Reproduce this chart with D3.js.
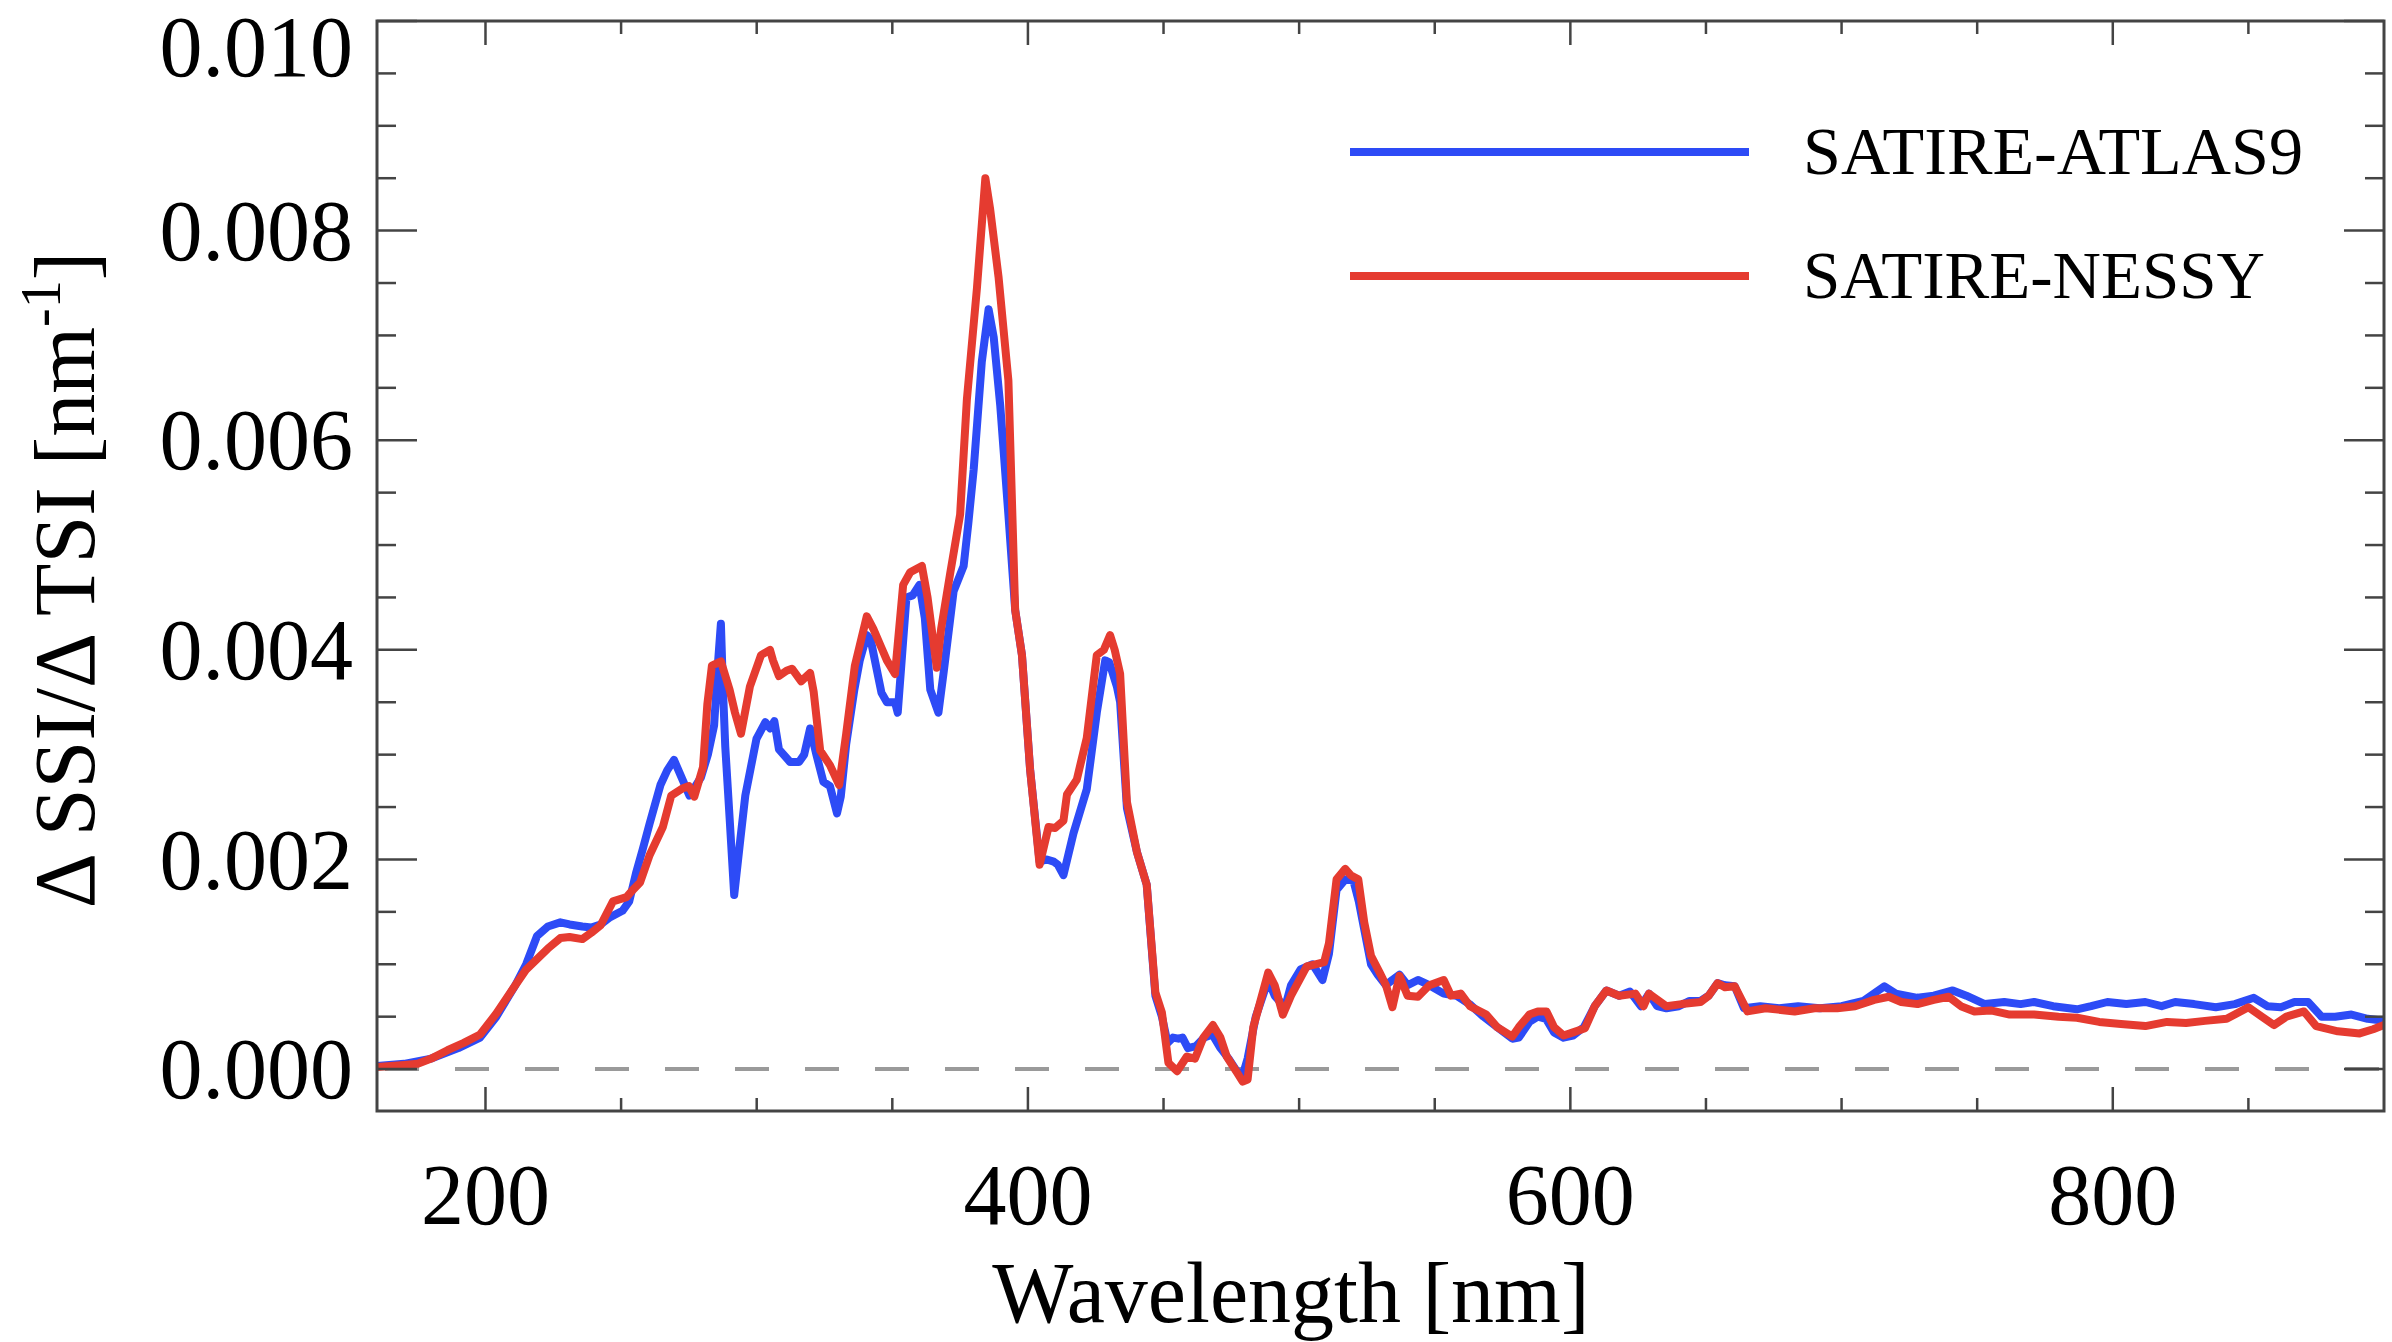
<!DOCTYPE html>
<html>
<head>
<meta charset="utf-8">
<script src="https://cdn.jsdelivr.net/npm/d3@7"></script>
<style>
  html, body { margin: 0; padding: 0; background: #fff; }
  svg { display: block; font-family: "Liberation Serif", "DejaVu Serif", serif; }
</style>
</head>
<body>
<svg id="chart" width="2392" height="1342"></svg>
<script>
// wavelength [nm], dSSI/dTSI [nm^-1]
const atlas9 = [
  [160, 0.00003], [170, 0.00005], [180, 0.0001], [190, 0.0002], [198, 0.0003],
  [204, 0.0005], [211, 0.0008], [215, 0.001], [219, 0.00127], [223, 0.00136],
  [227.6, 0.0014], [231, 0.00138], [235.7, 0.00136], [239, 0.00135], [242.4, 0.00138],
  [246, 0.00145], [250.5, 0.00151], [253, 0.0016], [255.5, 0.00187], [258, 0.0021],
  [260.5, 0.00234], [264.5, 0.00271], [267, 0.00285], [269.5, 0.00295], [272, 0.0028],
  [275.2, 0.00261], [279.4, 0.00278], [282, 0.003], [284.3, 0.00328], [285.8, 0.0039],
  [286.8, 0.00425], [287.6, 0.0036], [288.4, 0.00308], [290, 0.0024], [291.7, 0.00166],
  [294, 0.0022], [295.8, 0.00261], [299.9, 0.00315], [303.2, 0.00331], [305, 0.00325],
  [306.5, 0.00332], [308.2, 0.00305], [312.3, 0.00293], [315.6, 0.00293], [317.5, 0.003],
  [319.7, 0.00325], [322, 0.003], [324.6, 0.00274], [327, 0.0027], [329.6, 0.00244],
  [331, 0.0026], [333, 0.0031], [336, 0.00362], [338, 0.0039], [340.6, 0.00414],
  [342, 0.0041], [346, 0.00359], [348, 0.0035], [351, 0.0035], [352, 0.0034],
  [355.2, 0.0045], [357.5, 0.00452], [360, 0.00462], [362, 0.0043], [364, 0.00362],
  [367, 0.0034], [369, 0.0038], [372.6, 0.00456], [376.3, 0.0048], [378, 0.0052],
  [380, 0.00572], [383, 0.00675], [385.5, 0.00725], [387.4, 0.00698], [389.8, 0.00633],
  [392.8, 0.00529], [395.3, 0.00438], [397.8, 0.00395], [400.8, 0.00286], [404.3, 0.00198],
  [407, 0.002], [409.5, 0.00198], [411, 0.00195], [413.1, 0.00185], [416.8, 0.00225],
  [421.7, 0.00267], [425.4, 0.0034], [428.5, 0.0039], [430, 0.00388], [432.8, 0.00365],
  [434, 0.0035], [436.5, 0.00249], [440.2, 0.00207], [443.8, 0.00176], [447, 0.0007],
  [449.4, 0.0005], [451.5, 0.00025], [453.5, 0.0003], [455.5, 0.00029], [457, 0.0003],
  [459, 0.0002], [462, 0.00022], [465, 0.0003], [468, 0.00033], [471, 0.0002],
  [474, 0.0001], [477, -0.00002], [479.2, -0.00006], [481, 0.0001], [484, 0.0005],
  [488.6, 0.00085], [491, 0.0007], [494.8, 0.00059], [497, 0.0008], [500.5, 0.00095],
  [505, 0.001], [508.6, 0.00085], [511, 0.0011], [513.8, 0.00171], [517, 0.00181],
  [520, 0.0018], [522, 0.0016], [526.5, 0.001], [529, 0.0009], [532, 0.0008],
  [534.4, 0.00085], [537, 0.0009], [540, 0.0008], [543.8, 0.00085], [548, 0.0008],
  [553.3, 0.00072], [558, 0.0007], [562.8, 0.00062], [568, 0.0005], [573, 0.0004],
  [578.6, 0.00029], [581, 0.0003], [584.9, 0.00045], [588, 0.0005], [591, 0.00048],
  [594, 0.00035], [597.5, 0.0003], [601, 0.00032], [605, 0.0004], [609, 0.0006],
  [613.3, 0.00075], [618, 0.0007], [622, 0.00074], [626, 0.0006], [629, 0.00072],
  [632, 0.0006], [635.4, 0.00058], [640, 0.0006], [644, 0.00065], [648, 0.00065],
  [651, 0.0007], [654.3, 0.00082], [657, 0.0008], [660.6, 0.00079], [664, 0.00058],
  [670, 0.0006], [677, 0.00058], [684, 0.0006], [692, 0.00058], [700, 0.0006],
  [708, 0.00065], [715.8, 0.00079], [720, 0.00072], [728, 0.00068], [734, 0.0007],
  [741, 0.00075], [746, 0.0007], [752.8, 0.00062], [760, 0.00064], [766, 0.00062],
  [771, 0.00064], [778, 0.0006], [786.8, 0.00057], [792, 0.0006], [798, 0.00064],
  [805, 0.00062], [812, 0.00064], [818, 0.0006], [823, 0.00064], [830, 0.00062],
  [838, 0.00059], [845, 0.00062], [852, 0.00068], [857, 0.0006], [862, 0.00059],
  [867, 0.00064], [872, 0.00064], [877, 0.0005], [882, 0.0005], [888, 0.00052],
  [894, 0.00048], [900, 0.00046]
];

const nessy = [
  [160, 0.00002], [170, 0.00004], [175, 0.00005], [180, 0.0001], [186, 0.00018],
  [192, 0.00025], [198, 0.00033], [204, 0.00053], [211, 0.0008], [215, 0.00095],
  [219, 0.00105], [223, 0.00115], [227.6, 0.00125], [231, 0.00126], [235.7, 0.00124],
  [239, 0.0013], [242.4, 0.00137], [247, 0.0016], [252, 0.00164], [254, 0.0017],
  [257, 0.00178], [260.5, 0.00204], [265.4, 0.00231], [268.5, 0.00261], [272.8, 0.00268],
  [275, 0.0027], [277, 0.0026], [280.2, 0.00288], [281.8, 0.00348], [283.5, 0.00385],
  [286.8, 0.00389], [290, 0.00362], [292, 0.0034], [294.2, 0.0032], [297.5, 0.00365],
  [301.6, 0.00395], [304.9, 0.004], [306, 0.0039], [308.2, 0.00375], [311, 0.0038],
  [313, 0.00382], [316.4, 0.0037], [319.7, 0.00378], [321, 0.0036], [323.4, 0.00304],
  [327, 0.0029], [330.4, 0.00271], [333, 0.0032], [336.2, 0.00385], [340.6, 0.00432],
  [343, 0.0042], [346, 0.00402], [348, 0.0039], [351, 0.00377], [354, 0.00462],
  [356.6, 0.00474], [360.9, 0.0048], [363, 0.0045], [366.4, 0.00383], [368, 0.0042],
  [371.4, 0.00474], [375, 0.00529], [377.5, 0.00639], [381.2, 0.00745], [384.3, 0.0085],
  [386.1, 0.0082], [389.2, 0.00755], [392.8, 0.00657], [395.3, 0.00438], [397.8, 0.00395],
  [400.8, 0.00286], [404.3, 0.00195], [407.6, 0.00231], [410, 0.0023], [413.1, 0.00237],
  [414.4, 0.00262], [418, 0.00276], [421.7, 0.00316], [425.4, 0.00395], [428, 0.004],
  [430.3, 0.00414], [432, 0.004], [434, 0.00377], [436.5, 0.00255], [440.2, 0.00207],
  [443.8, 0.00176], [447, 0.00073], [449.4, 0.00054], [451.8, 0.00006], [455, -0.00002],
  [458.6, 0.00012], [461.6, 0.0001], [464.7, 0.0003], [468.2, 0.00042], [471, 0.0003],
  [473.3, 0.00012], [477, -0.00003], [479.2, -0.00012], [481, -0.0001], [483.1, 0.0004],
  [488.6, 0.00092], [491, 0.0008], [494, 0.00052], [497, 0.0007], [502.8, 0.00098],
  [506, 0.001], [509.2, 0.00102], [511, 0.0012], [513.8, 0.00181], [517, 0.00191],
  [519, 0.00185], [521.8, 0.00181], [524, 0.0014], [526.5, 0.00108], [529.7, 0.00092],
  [532, 0.0008], [534.4, 0.00059], [537, 0.00089], [540, 0.0007], [543.8, 0.00069],
  [548, 0.0008], [553.3, 0.00085], [556, 0.0007], [559.6, 0.00072], [563, 0.0006],
  [569, 0.00052], [573, 0.0004], [578.6, 0.00031], [581, 0.0004], [584.9, 0.00052],
  [588, 0.00055], [591.2, 0.00055], [594, 0.0004], [597.5, 0.00032], [601, 0.00035],
  [605.4, 0.00039], [609, 0.0006], [613.3, 0.00075], [618, 0.0007], [624, 0.00072],
  [627, 0.0006], [629, 0.00072], [635.4, 0.0006], [641, 0.00062], [648, 0.00064],
  [651, 0.0007], [654.3, 0.00082], [657, 0.00078], [660.6, 0.00079], [665.3, 0.00055],
  [672, 0.00058], [682.7, 0.00055], [690, 0.00058], [698.4, 0.00058], [705, 0.0006],
  [712, 0.00066], [717.4, 0.00069], [722, 0.00064], [728, 0.00062], [734, 0.00066],
  [739.5, 0.00069], [744, 0.0006], [749, 0.00055], [755, 0.00056], [762, 0.00052],
  [771, 0.00052], [780, 0.0005], [786.8, 0.00049], [795, 0.00045], [803, 0.00043],
  [812, 0.00041], [820, 0.00045], [827, 0.00044], [834, 0.00046], [842, 0.00048],
  [850, 0.00059], [855, 0.0005], [859.4, 0.00042], [864, 0.0005], [870.5, 0.00055],
  [875, 0.00041], [883, 0.00036], [891, 0.00034], [896, 0.00038], [900, 0.00042]
];

const seriesNames = ["SATIRE-ATLAS9", "SATIRE-NESSY"];
const seriesColors = ["#2d4bf6", "#e53b30"];
const xMajorTicks = [200, 400, 600, 800];
const yMajorTicks = [0, 0.002, 0.004, 0.006, 0.008, 0.010];

const width = 2392;
const height = 1342;
const margin = { top: 21, right: 8, bottom: 231, left: 377 };
const innerW = width - margin.left - margin.right;
const innerH = height - margin.top - margin.bottom;

const svg = d3.select("#chart");
svg.append("rect").attr("width", width).attr("height", height).attr("fill", "#fff");

const x = d3.scaleLinear().domain([160, 900]).range([margin.left, width - margin.right]);
const y = d3.scaleLinear().domain([-0.0004, 0.010]).range([height - margin.bottom, margin.top]);

svg.append("clipPath").attr("id", "plot-clip")
  .append("rect")
  .attr("x", margin.left).attr("y", margin.top)
  .attr("width", innerW).attr("height", innerH);

// zero reference line
svg.append("line")
  .attr("x1", x(160)).attr("x2", x(900))
  .attr("y1", y(0)).attr("y2", y(0))
  .attr("stroke", "#9a9a9a")
  .attr("stroke-width", 4)
  .attr("stroke-dasharray", "34,36")
  .attr("stroke-dashoffset", -8);

const line = d3.line()
  .x((d) => x(d[0]))
  .y((d) => y(d[1]));

const plot = svg.append("g").attr("clip-path", "url(#plot-clip)");

[atlas9, nessy].forEach((data, i) => {
  plot.append("path")
    .datum(data)
    .attr("fill", "none")
    .attr("stroke", seriesColors[i])
    .attr("stroke-width", 8)
    .attr("stroke-linejoin", "round")
    .attr("stroke-linecap", "round")
    .attr("d", line);
});

// axes: ticks on all four sides, pointing inwards
const xMinor = d3.range(200, 900, 50).filter((v) => !xMajorTicks.includes(v));
const yMinor = d3.range(0, 0.0100001, 0.0005).filter((v) => !yMajorTicks.some((m) => Math.abs(m - v) < 1e-9));

const axisColor = "#444";

function xTicksAt(yPos, dir) {
  const g = svg.append("g").attr("stroke", axisColor).attr("stroke-width", 2.5);
  xMajorTicks.forEach((v) => {
    g.append("line").attr("x1", x(v)).attr("x2", x(v)).attr("y1", yPos).attr("y2", yPos + dir * 24);
  });
  xMinor.forEach((v) => {
    g.append("line").attr("x1", x(v)).attr("x2", x(v)).attr("y1", yPos).attr("y2", yPos + dir * 13);
  });
}
function yTicksAt(xPos, dir) {
  const g = svg.append("g").attr("stroke", axisColor).attr("stroke-width", 2.5);
  yMajorTicks.forEach((v) => {
    g.append("line").attr("y1", y(v)).attr("y2", y(v)).attr("x1", xPos).attr("x2", xPos + dir * 40);
  });
  yMinor.forEach((v) => {
    g.append("line").attr("y1", y(v)).attr("y2", y(v)).attr("x1", xPos).attr("x2", xPos + dir * 19);
  });
}
xTicksAt(height - margin.bottom, -1);
xTicksAt(margin.top, 1);
yTicksAt(margin.left, 1);
yTicksAt(width - margin.right, -1);

svg.append("rect")
  .attr("x", margin.left).attr("y", margin.top)
  .attr("width", innerW).attr("height", innerH)
  .attr("fill", "none")
  .attr("stroke", axisColor)
  .attr("stroke-width", 3);

// tick labels
svg.append("g")
  .selectAll("text")
  .data(xMajorTicks)
  .join("text")
  .attr("x", (d) => x(d))
  .attr("y", 1224)
  .attr("text-anchor", "middle")
  .attr("font-size", 86)
  .attr("fill", "#000")
  .text((d) => d);

// the top label sits just below the frame edge, as in the original
svg.append("g")
  .selectAll("text")
  .data(yMajorTicks)
  .join("text")
  .attr("x", margin.left - 24)
  .attr("y", (d) => Math.max(y(d), 47))
  .attr("dy", "0.34em")
  .attr("text-anchor", "end")
  .attr("font-size", 86)
  .attr("fill", "#000")
  .text((d) => d3.format(".3f")(d));

// axis titles
svg.append("text")
  .attr("x", 1291)
  .attr("y", 1322)
  .attr("text-anchor", "middle")
  .attr("font-size", 86)
  .attr("fill", "#000")
  .text("Wavelength [nm]");

const yTitle = svg.append("text")
  .attr("transform", "translate(94,580) rotate(-90)")
  .attr("text-anchor", "middle")
  .attr("font-size", 86)
  .attr("fill", "#000");
yTitle.append("tspan").text("\u0394 SSI/\u0394 TSI [nm");
yTitle.append("tspan").attr("font-size", 56).attr("dy", -34).text("-1");
yTitle.append("tspan").attr("dy", 34).text("]");

// legend
const legendRows = [152, 276];
const legendWidths = [500, 462];
seriesNames.forEach((name, i) => {
  svg.append("line")
    .attr("x1", 1350).attr("x2", 1749)
    .attr("y1", legendRows[i]).attr("y2", legendRows[i])
    .attr("stroke", seriesColors[i])
    .attr("stroke-width", 8);
  svg.append("text")
    .attr("x", 1803)
    .attr("y", legendRows[i] + 22)
    .attr("font-size", 68)
    .attr("textLength", legendWidths[i])
    .attr("lengthAdjust", "spacingAndGlyphs")
    .attr("fill", "#000")
    .text(name);
});
</script>
</body>
</html>
